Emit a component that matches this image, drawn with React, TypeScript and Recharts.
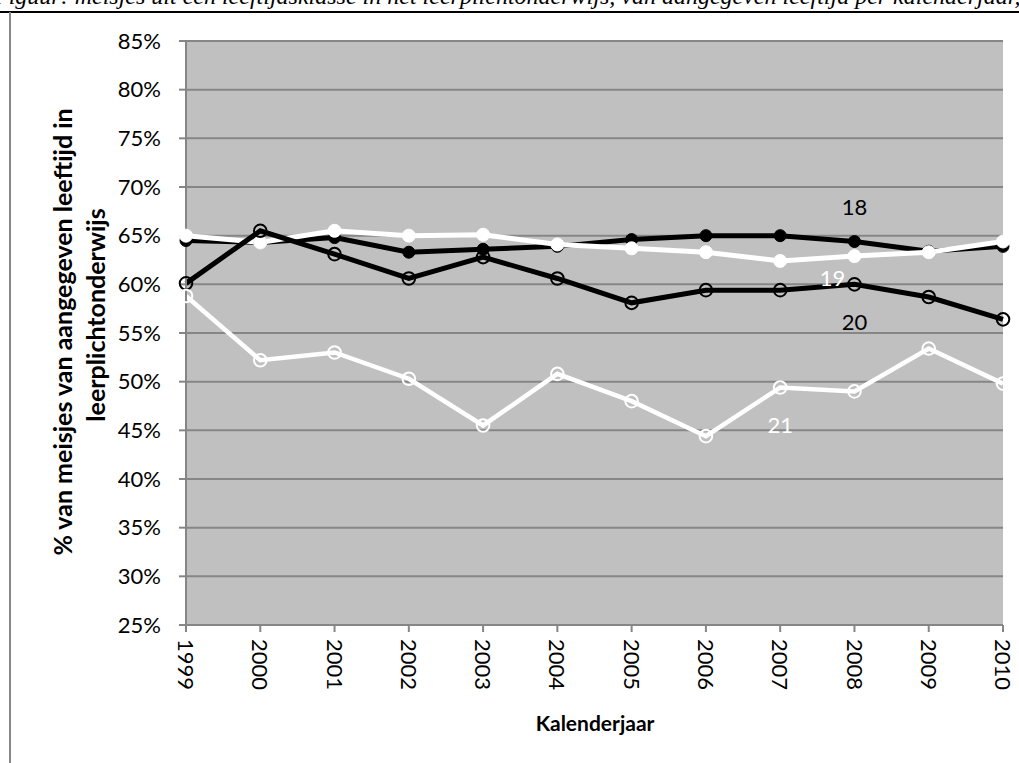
import { LineChart, Line, XAxis, YAxis, CartesianGrid } from "recharts";

const years = ["1999", "2000", "2001", "2002", "2003", "2004", "2005", "2006", "2007", "2008", "2009", "2010"];
const age18 = [64.5, 64.3, 64.8, 63.3, 63.6, 63.9, 64.6, 65.0, 65.0, 64.4, 63.4, 63.9];
const age19 = [65.0, 64.3, 65.5, 65.0, 65.1, 64.1, 63.7, 63.3, 62.4, 62.9, 63.3, 64.4];
const age20 = [60.1, 65.5, 63.1, 60.6, 62.8, 60.6, 58.1, 59.4, 59.4, 60.0, 58.7, 56.4];
const age21 = [58.8, 52.2, 53.0, 50.3, 45.5, 50.8, 48.0, 44.4, 49.4, 49.0, 53.4, 49.8];
const yTicks = [25, 30, 35, 40, 45, 50, 55, 60, 65, 70, 75, 80, 85];
const seriesNames = ["18", "19", "20", "21"];
const labelYears = ["2008", "2008", "2008", "2007"];

const data = years.map((year, i) => ({
  year,
  a18: age18[i],
  a19: age19[i],
  a20: age20[i],
  a21: age21[i],
}));

const FONT = "Lato, 'Open Sans', sans-serif";
const GRID = "#868686";

function YearTick({ x, y, payload }: any) {
  return (
    <text
      x={x}
      y={y}
      transform={`rotate(90 ${x} ${y})`}
      dy="0.36em"
      fontSize={22}
      fontFamily={FONT}
      fill="#000"
    >
      {payload.value}
    </text>
  );
}

// name label next to one point of the series
const seriesLabel = (series: number, dx: number, dy: number, color: string) => (props: any) => {
  if (years[props.index] !== labelYears[series]) return <g />;
  return (
    <text
      x={props.x + dx}
      y={props.y + dy}
      textAnchor="middle"
      dominantBaseline="central"
      fontSize={22}
      fontFamily={FONT}
      fill={color}
    >
      {seriesNames[series]}
    </text>
  );
};

export default function App() {
  return (
    <div
      style={{
        position: "absolute",
        left: 0,
        top: 0,
        width: 1019,
        height: 763,
        background: "#fff",
        overflow: "hidden",
      }}
    >
      <LineChart
        width={1019}
        height={763}
        data={data}
        margin={{ top: 41, right: 16, bottom: 58, left: 106 }}
      >
        <CartesianGrid vertical={false} stroke={GRID} strokeWidth={2} fill="#c0c0c0" />
        <XAxis
          dataKey="year"
          height={80}
          interval={0}
          tickSize={7}
          tickMargin={7}
          stroke={GRID}
          strokeWidth={2}
          tick={<YearTick />}
        />
        <YAxis
          width={80}
          domain={[25, 85]}
          ticks={yTicks}
          tickSize={7}
          tickMargin={18}
          stroke={GRID}
          strokeWidth={2}
          tickFormatter={(v) => `${v}%`}
          tick={{ fontSize: 22, fontFamily: FONT, fill: "#000" }}
        />
        <Line
          dataKey="a18"
          stroke="#000"
          strokeWidth={5}
          dot={{ r: 6, fill: "#000", stroke: "#000", strokeWidth: 1 }}
          label={seriesLabel(0, 0, -35, "#000")}
          isAnimationActive={false}
        />
        <Line
          dataKey="a19"
          stroke="#fff"
          strokeWidth={5}
          dot={{ r: 6.5, fill: "#fff", stroke: "#fff", strokeWidth: 1 }}
          label={seriesLabel(1, -22, 21, "#fff")}
          isAnimationActive={false}
        />
        <Line
          dataKey="a20"
          stroke="#000"
          strokeWidth={5}
          dot={{ r: 6.3, fill: "none", stroke: "#000", strokeWidth: 2 }}
          label={seriesLabel(2, 0, 37, "#000")}
          isAnimationActive={false}
        />
        <Line
          dataKey="a21"
          stroke="#fff"
          strokeWidth={4.5}
          dot={{ r: 6.3, fill: "none", stroke: "#fff", strokeWidth: 2 }}
          label={seriesLabel(3, 0, 37, "#fff")}
          isAnimationActive={false}
        />
      </LineChart>
      <svg
        width={1019}
        height={763}
        style={{ position: "absolute", left: 0, top: 0, pointerEvents: "none" }}
      >
        <text
          x={-6}
          y={3.5}
          fontSize={24}
          fontStyle="italic"
          fontFamily="'Liberation Serif', serif"
          fill="#000"
        >
          Figuur: meisjes uit een leeftijdsklasse in het leerplichtonderwijs, van aangegeven leeftijd per kalenderjaar, per leeftijdsjaar
        </text>
        <line x1={0} y1={12} x2={1019} y2={12} stroke="#000" strokeWidth={2} />
        <line x1={10} y1={12} x2={10} y2={763} stroke={GRID} strokeWidth={2} />
        <text
          transform="translate(62 332) rotate(-90)"
          textAnchor="middle"
          dominantBaseline="central"
          fontSize={25}
          fontWeight="bold"
          fontFamily={FONT}
          fill="#000"
        >
          % van meisjes van aangegeven leeftijd in
        </text>
        <text
          transform="translate(95 315) rotate(-90)"
          textAnchor="middle"
          dominantBaseline="central"
          fontSize={25}
          fontWeight="bold"
          fontFamily={FONT}
          fill="#000"
        >
          leerplichtonderwijs
        </text>
        <text
          x={595}
          y={722}
          textAnchor="middle"
          dominantBaseline="central"
          fontSize={21}
          fontWeight="bold"
          fontFamily={FONT}
          fill="#000"
        >
          Kalenderjaar
        </text>
      </svg>
    </div>
  );
}
